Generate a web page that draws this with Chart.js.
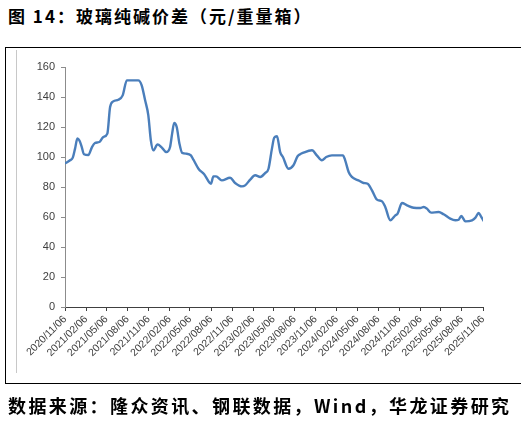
<!DOCTYPE html>
<html lang="zh">
<head>
<meta charset="utf-8"/>
<title>玻璃纯碱价差</title>
<script src="https://cdn.jsdelivr.net/npm/chart.js@4.4.3/dist/chart.umd.min.js"></script>
<style>
  html, body { margin: 0; padding: 0; background: #fff; }
  #page { position: relative; width: 521px; height: 424px; overflow: hidden; }
  #title { position: absolute; left: 8px; top: 3px; font: bold 17px "Noto Sans CJK SC", sans-serif; letter-spacing: 2px; color: #000; white-space: nowrap; }
  #source { position: absolute; left: 8px; top: 392px; font: bold 18px "Noto Sans CJK SC", sans-serif; letter-spacing: 2.4px; color: #000; white-space: nowrap; }
  #frame { position: absolute; left: 5px; top: 47px; width: 530px; height: 335px; border-left: 1px solid #000; border-top: 1px solid #000; border-bottom: 1px solid #000; }
  #inner { position: absolute; left: 16px; top: 50px; width: 1px; height: 323px; background: #c8c8c8; }
  #wrap { position: absolute; left: 0; top: 0; width: 521px; height: 424px; }
</style>
</head>
<body>
<div id="page">
  <div id="title">图 14：玻璃纯碱价差（元/重量箱）</div>
  <div id="frame"></div>
  <div id="inner"></div>
  <div id="wrap"><canvas id="spreadChart"></canvas></div>
  <div id="source">数据来源：隆众资讯、钢联数据，Wind，华龙证券研究</div>
</div>
<script>
  // glass - soda ash spread
  const dates = [
    '2020-11-06', '2020-11-28', '2020-12-10', '2020-12-20', '2020-12-30', '2021-01-08',
    '2021-01-18', '2021-01-28', '2021-02-16', '2021-03-03', '2021-03-17', '2021-04-05',
    '2021-04-22', '2021-05-10', '2021-05-22', '2021-06-05', '2021-06-27', '2021-07-16',
    '2021-08-03', '2021-09-22', '2021-10-07', '2021-10-22', '2021-11-05', '2021-11-16',
    '2021-11-27', '2021-12-15', '2022-01-03', '2022-01-22', '2022-02-08', '2022-02-17',
    '2022-02-26', '2022-03-09', '2022-03-21', '2022-04-02', '2022-04-22', '2022-05-10',
    '2022-05-21', '2022-06-12', '2022-07-07', '2022-08-06', '2022-08-16', '2022-08-28',
    '2022-09-22', '2022-10-28', '2022-11-19', '2022-12-19', '2023-01-02', '2023-01-24',
    '2023-02-15', '2023-03-09', '2023-03-30', '2023-04-14', '2023-04-29', '2023-05-09',
    '2023-05-21', '2023-06-04', '2023-06-16', '2023-07-10', '2023-08-01', '2023-08-19',
    '2023-08-30', '2023-09-11', '2023-10-21', '2023-11-11', '2023-12-03', '2023-12-22',
    '2024-01-16', '2024-03-04', '2024-03-14', '2024-03-29', '2024-04-12', '2024-05-11',
    '2024-06-02', '2024-06-20', '2024-07-09', '2024-07-31', '2024-08-22', '2024-09-05',
    '2024-09-27', '2024-10-19', '2024-10-29', '2024-11-17', '2024-12-09', '2025-01-07',
    '2025-02-05', '2025-02-20', '2025-03-06', '2025-03-24', '2025-04-26', '2025-05-18',
    '2025-06-16', '2025-07-08', '2025-07-23', '2025-08-03', '2025-08-21', '2025-09-19',
    '2025-10-04', '2025-10-18', '2025-10-28', '2025-11-09'
  ];
  const spread = [
    95.6, 97.8, 99.6, 105.6, 112.3, 111,
    106.7, 101.8, 101.3, 106.3, 109.3, 110,
    113.3, 115.6, 133.3, 137.1, 138.2, 141.1,
    151.1, 151.1, 147.8, 137.8, 127.8, 111.1,
    104.4, 108.4, 106.3, 103.3, 106.7, 115.6,
    122.7, 120, 108.9, 102.7, 102.2, 101.1,
    98.2, 92.2, 88.5, 82.2, 87.1, 87.1,
    84.4, 86.2, 82.7, 80.4, 81.1, 84.9,
    87.8, 86.7, 89.3, 92.2, 105.6, 112.9,
    113.8, 103.3, 100, 92.2, 94.5, 100.5,
    101.8, 102.7, 104.5, 101.1, 97.8, 100,
    101.1, 101.1, 97.8, 90, 86.7, 84.4,
    82.7, 82.2, 77.8, 71.6, 70.4, 66.7,
    57.8, 61.1, 62.2, 69.3, 67.8, 66.2,
    66, 66.7, 65.6, 62.9, 63.3, 61.8,
    58.9, 57.8, 58.2, 60.7, 57.1, 57.8,
    59.6, 62.7, 60.4, 57.3
  ];
  const tickLabels = [
    '2020/11/06', '2021/02/06', '2021/05/06', '2021/08/06', '2021/11/06',
    '2022/02/06', '2022/05/06', '2022/08/06', '2022/11/06', '2023/02/06',
    '2023/05/06', '2023/08/06', '2023/11/06', '2024/02/06', '2024/05/06',
    '2024/08/06', '2024/11/06', '2025/02/06', '2025/05/06', '2025/08/06',
    '2025/11/06'
  ];
  const yTicks = [0, 20, 40, 60, 80, 100, 120, 140, 160];

  const DAY = 86400000;
  const toDay = s => Math.round(Date.parse(s.replace(/\//g, '-')) / DAY);
  const tickDays = tickLabels.map(toDay);
  const points = dates.map((d, i) => ({ x: toDay(d), y: spread[i] }));

  new Chart(document.getElementById('spreadChart'), {
    type: 'line',
    data: {
      datasets: [{
        data: points,
        borderColor: '#4a7ebb',
        borderWidth: 2.4,
        pointRadius: 0,
        cubicInterpolationMode: 'monotone',
        fill: false,
      }],
    },
    options: {
      responsive: true,
      maintainAspectRatio: false,
      animation: false,
      layout: { padding: { left: 15, right: 38, top: 67, bottom: 47 } },
      plugins: { legend: { display: false }, tooltip: { enabled: false } },
      scales: {
        x: {
          type: 'linear',
          min: tickDays[0],
          max: tickDays[tickDays.length - 1],
          afterBuildTicks: (axis) => { axis.ticks = tickDays.map(v => ({ value: v })); },
          afterFit: (axis) => { axis.height = 70; },
          border: { color: '#404040', width: 1 },
          grid: { drawOnChartArea: false, drawTicks: true, tickLength: 4, color: '#404040' },
          ticks: {
            autoSkip: false,
            minRotation: 45,
            maxRotation: 45,
            padding: 2,
            color: '#404040',
            font: { family: 'Liberation Sans', size: 10.5 },
            callback: (v) => tickLabels[tickDays.indexOf(v)] || '',
          },
        },
        y: {
          min: 0,
          max: 160,
          afterBuildTicks: (axis) => { axis.ticks = yTicks.map(v => ({ value: v })); },
          afterFit: (axis) => { axis.width = 50; },
          border: { color: '#8c8c8c', width: 1 },
          grid: { drawOnChartArea: false, drawTicks: true, tickLength: 4, color: '#8c8c8c' },
          ticks: {
            padding: 6,
            color: '#404040',
            font: { family: 'Liberation Sans', size: 11 },
          },
        },
      },
    },
  });
</script>
</body>
</html>
